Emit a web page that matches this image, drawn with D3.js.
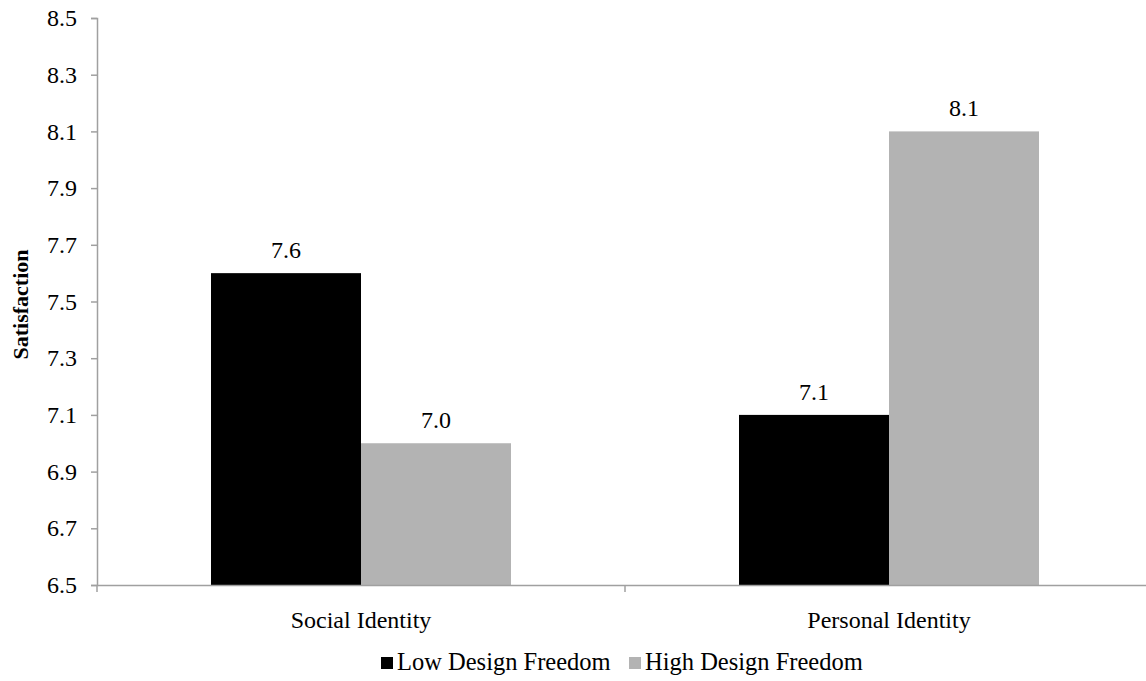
<!DOCTYPE html>
<html><head><meta charset="utf-8">
<script src="https://cdn.jsdelivr.net/npm/d3@7"></script>
<style>body{margin:0;background:#fff}svg{display:block}</style>
</head><body>
<svg id="c" width="1146" height="681"></svg>
<script>
const categories = ["Social Identity", "Personal Identity"];
const seriesNames = ["Low Design Freedom", "High Design Freedom"];
const lowValues = [7.6, 7.1];
const highValues = [7.0, 8.1];
const yTicks = [6.5, 6.7, 6.9, 7.1, 7.3, 7.5, 7.7, 7.9, 8.1, 8.3, 8.5];
const colors = ["#000000", "#b3b3b3"];

(function(){
const FONT = "Liberation Serif";
const FS = "24px";
const svg = d3.select("#c");
const mLeft = 97, mRight = 1153, mTop = 18, mBottom = 585;
const x = d3.scaleBand().domain(categories).range([mLeft, mRight]).paddingInner(0).paddingOuter(0);
const x1 = d3.scaleBand().domain(seriesNames).range([0, x.bandwidth()]).paddingOuter(0.76).paddingInner(0);
const y = d3.scaleLinear().domain([6.5, 8.5]).range([mBottom, mTop]);

const data = categories.map((c, i) => ({cat: c, vals: [lowValues[i], highValues[i]]}));

const g = svg.append("g");
data.forEach(d => {
  d.vals.forEach((v, j) => {
    const bx = x(d.cat) + x1(seriesNames[j]);
    g.append("rect").attr("x", bx).attr("y", y(v)).attr("width", x1.bandwidth()).attr("height", y(6.5) - y(v)).attr("fill", colors[j]);
    g.append("text").attr("x", bx + x1.bandwidth()/2).attr("y", y(v) - 15).attr("text-anchor", "middle")
      .style("font-family", FONT).style("font-size", FS).style("fill", "#000").text(v.toFixed(1));
  });
});

const ya = svg.append("g").attr("transform", `translate(${mLeft},0)`)
  .call(d3.axisLeft(y).tickValues(yTicks).tickFormat(d3.format(".1f")).tickSize(6).tickPadding(14));
ya.select(".domain").attr("stroke", "#a0a0a0").attr("stroke-width", 1.5);
ya.selectAll(".tick line").attr("stroke", "#a0a0a0").attr("stroke-width", 1.5);
ya.selectAll(".tick text").style("font-size", FS).style("font-family", FONT).style("fill", "#000");

const xa = svg.append("g").attr("transform", `translate(0,${mBottom})`)
  .call(d3.axisBottom(x).tickSize(0).tickPadding(26));
xa.select(".domain").attr("stroke", "#a0a0a0").attr("stroke-width", 1.5);
xa.selectAll(".tick text").style("font-size", FS).style("font-family", FONT).style("fill", "#000");
[mLeft, mLeft + x.bandwidth(), mRight].forEach(px => {
  xa.append("line").attr("x1", px).attr("x2", px).attr("y1", 0).attr("y2", 7).attr("stroke", "#a0a0a0").attr("stroke-width", 1.5);
});

svg.append("text").attr("transform", `translate(28,${(mTop+mBottom)/2 + 3}) rotate(-90)`)
  .attr("text-anchor", "middle").style("font-family", FONT).style("font-size", "22px").style("font-weight", "bold").text("Satisfaction");

const legendX = [381, 629];
seriesNames.forEach((s, j) => {
  svg.append("rect").attr("x", legendX[j]).attr("y", 657).attr("width", 12).attr("height", 12).attr("fill", colors[j]);
  svg.append("text").attr("x", legendX[j] + 16).attr("y", 670).style("font-family", FONT).style("font-size", "24.5px").style("fill", "#000").text(s);
});
})();
</script>
</body></html>
